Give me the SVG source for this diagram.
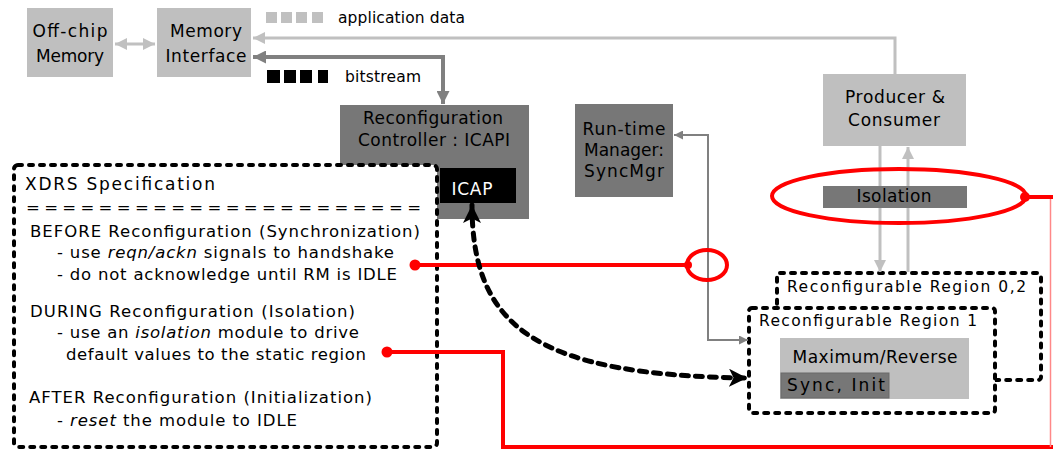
<svg xmlns="http://www.w3.org/2000/svg" width="1053" height="451" viewBox="0 0 1053 451">
<style>
.t{font-family:"DejaVu Sans",Verdana,sans-serif;font-size:17px;fill:#000}
.s{font-size:15.5px}
.b{font-size:16.5px}
.w{fill:#fff}
.lg{fill:#bfbfbf}
.dg{fill:#777}
.dash{fill:none;stroke:#000;stroke-width:4;stroke-dasharray:4 7;stroke-linecap:round;stroke-linejoin:round}
.red{fill:none;stroke:#f00;stroke-width:4}
.i{font-style:italic}
</style>
<defs>
<marker id="aLG" viewBox="0 0 10 10" refX="10" refY="5" markerWidth="12" markerHeight="12" markerUnits="userSpaceOnUse" orient="auto-start-reverse"><path d="M0,0 L10,5 L0,10 z" fill="#c0c0c0"/></marker>
<marker id="aDG" viewBox="0 0 10 10" refX="10" refY="5" markerWidth="13" markerHeight="13" markerUnits="userSpaceOnUse" orient="auto-start-reverse"><path d="M0,0 L10,5 L0,10 z" fill="#808080"/></marker>
<marker id="aSG" viewBox="0 0 10 10" refX="10" refY="5" markerWidth="9" markerHeight="9" markerUnits="userSpaceOnUse" orient="auto-start-reverse"><path d="M0,0 L10,5 L0,10 z" fill="#808080"/></marker>
<marker id="aBK" viewBox="0 0 10 10" refX="10" refY="5" markerWidth="18" markerHeight="18" markerUnits="userSpaceOnUse" orient="auto-start-reverse"><path d="M0,0 L10,5 L0,10 L2.5,5 z" fill="#000"/></marker>
</defs>
<rect width="1053" height="451" fill="#fff"/>

<g id="off-chip-memory">
<rect x="27" y="8" width="86" height="69" class="lg"/>
<text class="t" x="70" y="37" text-anchor="middle" textLength="75">Off-chip</text>
<text class="t" x="70" y="62" text-anchor="middle" textLength="68">Memory</text>
</g>
<g id="memory-interface">
<rect x="157" y="8" width="94" height="69" class="lg"/>
<text class="t" x="206" y="37" text-anchor="middle" textLength="72">Memory</text>
<text class="t" x="206" y="62" text-anchor="middle" textLength="81">Interface</text>
</g>

<g id="legend">
<rect x="266" y="12" width="11" height="11" fill="#c0c0c0"/>
<rect x="281" y="12" width="11" height="11" fill="#c0c0c0"/>
<rect x="296" y="12" width="11" height="11" fill="#c0c0c0"/>
<rect x="312" y="12" width="11" height="11" fill="#c0c0c0"/>
<text class="t s" x="338" y="23" textLength="127">application data</text>
<rect x="267" y="70" width="13" height="13" fill="#000"/>
<rect x="284" y="70" width="12" height="13" fill="#000"/>
<rect x="300" y="70" width="12" height="13" fill="#000"/>
<rect x="318" y="70" width="10" height="13" fill="#000"/>
<text class="t s" x="345" y="82" textLength="76">bitstream</text>
</g>

<g id="reconfiguration-controller">
<rect x="340" y="105" width="189" height="114" class="dg"/>
<text class="t" x="433" y="124" text-anchor="middle" textLength="140">Reconfiguration</text>
<text class="t" x="434" y="146" text-anchor="middle" textLength="152">Controller : ICAPI</text>
</g>
<g id="icap">
<rect x="440" y="168" width="76" height="35" fill="#000"/>
<text class="t w" x="472" y="195" text-anchor="middle" textLength="41">ICAP</text>
</g>

<g id="runtime-manager">
<rect x="575" y="104" width="98" height="93" class="dg"/>
<text class="t" x="624" y="135" text-anchor="middle" textLength="83">Run-time</text>
<text class="t" x="624" y="156" text-anchor="middle" textLength="80">Manager:</text>
<text class="t" x="624" y="177" text-anchor="middle" textLength="80">SyncMgr</text>
</g>

<g id="producer-consumer">
<rect x="823" y="74" width="143" height="72" class="lg"/>
<text class="t" x="895" y="103" text-anchor="middle" textLength="100">Producer &amp;</text>
<text class="t" x="894" y="126" text-anchor="middle" textLength="92">Consumer</text>
</g>

<g id="xdrs-specification">
<rect x="14" y="165" width="423" height="282" rx="4" fill="#fff" stroke="none"/>
<rect x="14" y="165" width="423" height="282" rx="4" class="dash"/>
<text class="t" x="25" y="190" font-size="18" textLength="190">XDRS Specification</text>
<text class="t b" x="26" y="213" textLength="395">======================</text>
<text class="t b" x="30" y="237" textLength="390">BEFORE Reconfiguration  (Synchronization)</text>
<text class="t b" x="57" y="258" textLength="337">- use <tspan class="i">reqn/ackn</tspan> signals to handshake</text>
<text class="t b" x="57" y="280" textLength="340">- do not acknowledge until RM is IDLE</text>
<text class="t b" x="30" y="317" textLength="325">DURING Reconfiguration  (Isolation)</text>
<text class="t b" x="57" y="338" textLength="302">- use an <tspan class="i">isolation</tspan> module to drive</text>
<text class="t b" x="66" y="360" textLength="300">default values to the static region</text>
<text class="t b" x="29" y="403" textLength="343">AFTER Reconfiguration  (Initialization)</text>
<text class="t b" x="57" y="426" textLength="240">- <tspan class="i">reset</tspan> the module to IDLE</text>
</g>

<g id="region-0-2">
<rect x="777" y="273" width="264" height="107" rx="3" class="dash"/>
<text class="t s" x="787" y="292" textLength="239">Reconfigurable Region  0,2</text>
</g>
<g id="region-1">
<rect x="749" y="308" width="246" height="105" rx="3" fill="#fff" stroke="none"/>
<rect x="749" y="308" width="246" height="105" rx="3" class="dash"/>
<text class="t s" x="759" y="326" textLength="218">Reconfigurable Region  1</text>
</g>
<g id="maximum-reverse">
<rect x="780" y="338" width="189" height="61" class="lg"/>
<text class="t" x="875" y="363" text-anchor="middle" textLength="165">Maximum/Reverse</text>
</g>
<g id="sync-init">
<rect x="781" y="373" width="108" height="25" fill="#777" stroke="#6a6a6a" stroke-width="1"/>
<text class="t" x="787" y="391" font-size="19" textLength="98">Sync, Init</text>
</g>

<g id="connectors">
<path d="M115 44 H155" stroke="#c0c0c0" stroke-width="3" fill="none" marker-start="url(#aLG)" marker-end="url(#aLG)"/>
<path d="M895 74 V38 H253" stroke="#c0c0c0" stroke-width="3" fill="none" marker-end="url(#aLG)"/>
<path d="M253 57 H443 V104" stroke="#808080" stroke-width="4" fill="none" marker-start="url(#aDG)" marker-end="url(#aDG)"/>
<path d="M880 146 V272" stroke="#c0c0c0" stroke-width="3" fill="none" marker-end="url(#aLG)"/>
<path d="M908 272 V147" stroke="#c0c0c0" stroke-width="3" fill="none" marker-end="url(#aLG)"/>
<path d="M674 135 H708 V340 H748" stroke="#808080" stroke-width="2" fill="none" marker-start="url(#aSG)" marker-end="url(#aSG)"/>
<path d="M415 265 H686" class="red"/>
<circle cx="415" cy="265" r="5.5" fill="#f00"/>
<circle cx="688" cy="265" r="4" fill="#f00"/>
<ellipse cx="707" cy="265" rx="20" ry="15" class="red" stroke-width="5"/>
<path d="M387 352 H503 V447 H1053" class="red"/>
<path d="M1050.5 447 V197" fill="none" stroke="#f88" stroke-width="1.5"/>
<path d="M1026 197 H1053" class="red"/>
<circle cx="387" cy="352" r="5.5" fill="#f00"/>
<circle cx="1025" cy="197" r="5" fill="#f00"/>
<path d="M472 205 C472 330 540 375 747 378" fill="none" stroke="#000" stroke-width="5" stroke-dasharray="7 7" stroke-linecap="round" marker-start="url(#aBK)" marker-end="url(#aBK)"/>
</g>

<g id="isolation">
<rect x="823" y="186" width="144" height="22" class="dg"/>
<text class="t" x="894" y="202" text-anchor="middle" textLength="75">Isolation</text>
</g>
<g id="isolation-highlight">
<ellipse cx="899" cy="196" rx="127" ry="27" class="red" stroke-width="5"/>
</g>
</svg>
